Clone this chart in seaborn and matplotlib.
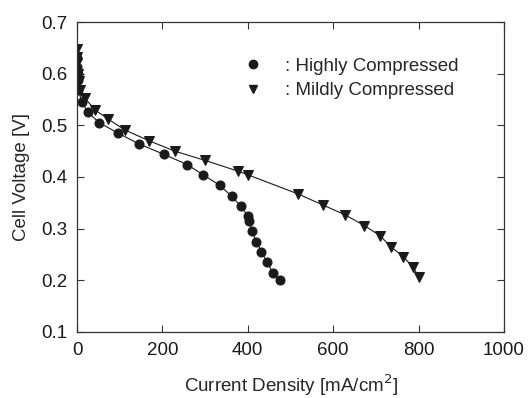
import numpy as np
import pandas as pd
import matplotlib
matplotlib.use("Agg")
import matplotlib.pyplot as plt
from matplotlib.lines import Line2D
import seaborn as sns

# Highly compressed (circles)
high_x = [0, 1, 2, 3, 3, 11, 26, 52, 96, 145, 203, 258, 296, 334, 362, 383,
          400, 403, 410, 420, 432, 445, 458, 475]
high_y = [0.630, 0.612, 0.600, 0.588, 0.568, 0.546, 0.525, 0.505, 0.485, 0.464,
          0.444, 0.424, 0.404, 0.384, 0.363, 0.344, 0.325, 0.315, 0.295, 0.275,
          0.255, 0.235, 0.215, 0.200]

# Mildly compressed (triangles)
mild_x = [0, 0, 1, 2, 4, 8, 19, 42, 73, 112, 169, 229, 300, 378, 401, 518,
          575, 627, 673, 710, 735, 764, 786, 801]
mild_y = [0.648, 0.633, 0.620, 0.600, 0.585, 0.568, 0.552, 0.530, 0.512, 0.491,
          0.470, 0.450, 0.432, 0.411, 0.404, 0.367, 0.346, 0.327, 0.306, 0.286,
          0.265, 0.246, 0.226, 0.207]

labels = [": Highly Compressed", ": Mildly Compressed"]

sns.set_theme(style="ticks")
plt.rcParams['font.family'] = ['Liberation Sans', 'DejaVu Sans']

fig = plt.figure(figsize=(5.29, 3.98), dpi=100)
ax = fig.add_axes([0.1456, 0.166, 0.8071, 0.7787])

sns.lineplot(x=high_x, y=high_y, ax=ax, color='k', lw=0.8, marker='o',
             markersize=6.5, markeredgecolor='k', estimator=None, sort=False)
sns.lineplot(x=mild_x, y=mild_y, ax=ax, color='k', lw=0.8, marker='v',
             markersize=7.5, markeredgecolor='k', estimator=None, sort=False)

ax.set_xlim(0, 1000)
ax.set_ylim(0.1, 0.7)
ax.set_xticks(np.arange(0, 1001, 200))
ax.set_yticks(np.arange(0.1, 0.71, 0.1))
ax.set_yticklabels([f"{v:.1f}" for v in np.arange(0.1, 0.71, 0.1)])
ax.tick_params(direction='in', top=True, right=True, length=5, width=0.8,
               labelsize=13.5, colors='#333333', labelcolor='k', pad=7)
for s in ax.spines.values():
    s.set_color('#333333')
    s.set_linewidth(0.9)

ax.set_xlabel("Current Density [mA/cm$^2$]", fontsize=13.5, labelpad=10)
ax.set_ylabel("Cell Voltage [V]", fontsize=13.5, labelpad=8)

handles = [Line2D([], [], color='k', marker='o', ls='none', markersize=6),
           Line2D([], [], color='k', marker='v', ls='none', markersize=6)]
ax.legend(handles, labels, loc='upper left', bbox_to_anchor=(0.35, 0.94),
          frameon=False, fontsize=13.5, handlelength=1.0, handletextpad=1.2,
          labelspacing=0.4)

fig.savefig("out.png", dpi=100)
